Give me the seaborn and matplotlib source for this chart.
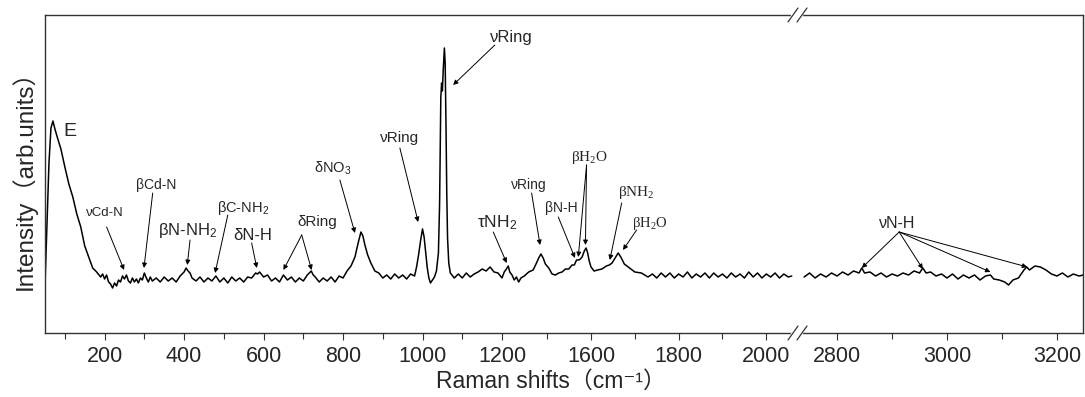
import numpy as np
import matplotlib
matplotlib.use('Agg')
import matplotlib.pyplot as plt
import seaborn as sns

# Raman spectrum (shift in cm-1, intensity in arb. units)
shift_low = [50, 55, 60, 65, 70, 75, 80, 90, 100, 110, 120, 130, 140, 150, 160, 170, 180, 190, 195,
             200, 205, 210, 215, 220, 225, 230, 235, 240, 245, 250, 255, 260, 265, 270, 275, 280, 285,
             290, 295, 300, 305, 310, 315, 320, 330, 340, 350, 360, 370, 380, 390, 400, 405, 410, 415,
             420, 430, 440, 450, 460, 470, 480, 490, 500, 510, 520, 530, 540, 550, 560, 570, 580, 585,
             590, 600, 610, 620, 630, 640, 650, 660, 670, 680, 690, 700, 710, 720, 725, 730, 740, 750,
             760, 770, 780, 790, 800, 810, 820, 830, 838, 845, 850, 855, 862, 870, 880, 890, 900, 910,
             920, 930, 940, 950, 960, 970, 980, 985, 990, 995, 1000, 1004, 1008, 1012, 1016, 1020, 1025,
             1030, 1035, 1040, 1043, 1046, 1048, 1050, 1052, 1055, 1057, 1059, 1061, 1063, 1066, 1070,
             1080, 1090, 1100, 1110, 1120, 1130, 1140, 1150, 1160, 1170, 1180, 1190, 1200, 1210, 1220,
             1228, 1235, 1245, 1255, 1265, 1275, 1285, 1300, 1320, 1340, 1355, 1365, 1375, 1385, 1395,
             1410, 1425, 1440, 1455, 1470, 1485, 1500, 1515, 1525, 1535, 1545, 1552, 1560, 1570, 1578,
             1585, 1592, 1600, 1607, 1615, 1625, 1635, 1642, 1648, 1655, 1662, 1668, 1676, 1688, 1700,
             1715, 1730, 1740, 1750, 1760, 1770, 1780, 1790, 1800, 1810, 1820, 1830, 1840, 1850, 1860,
             1870, 1880, 1890, 1900, 1910, 1920, 1930, 1940, 1950, 1960, 1970, 1980, 1990, 2000, 2010,
             2020, 2030, 2040, 2050, 2058]
int_low = [48, 110, 170, 205, 212, 204, 197, 184, 166, 149, 136, 119, 106, 87, 76, 65, 61, 56, 59,
           54, 58, 51, 49, 45, 50, 47, 53, 51, 57, 54, 58, 52, 50, 55, 51, 54, 50,
           55, 53, 60, 55, 51, 56, 52, 55, 51, 56, 52, 55, 51, 57, 61, 65, 62, 60,
           55, 52, 56, 51, 55, 52, 57, 51, 55, 50, 56, 52, 55, 51, 56, 55, 60, 59,
           61, 56, 58, 52, 55, 51, 58, 53, 56, 51, 55, 52, 58, 62, 58, 56, 51, 55,
           52, 56, 51, 57, 55, 62, 67, 76, 90, 101, 97, 88, 78, 70, 62, 60, 55, 58,
           54, 59, 55, 58, 54, 59, 57, 66, 78, 92, 104, 96, 80, 65, 55, 50, 53,
           56, 62, 80, 130, 235, 250, 242, 262, 285, 270, 210, 140, 95, 70, 60,
           55, 59, 55, 60, 56, 59, 61, 64, 62, 66, 61, 60, 55, 61, 64,
           67, 61, 58, 53, 56, 51, 55, 57, 61, 63, 70, 75, 79, 75, 69,
           65, 59, 58, 60, 61, 64, 64, 68, 68, 73, 73, 74, 76, 82, 85,
           80, 72, 66, 62, 63, 64, 67, 68, 70, 75, 80, 76, 69, 65, 61,
           60, 56, 59, 55, 60, 56, 60, 55, 59, 56, 61, 55, 59, 56, 60,
           55, 60, 56, 59, 55, 60, 56, 59, 55, 61, 56, 60, 55, 59, 56,
           60, 55, 59, 56, 57]

shift_high = [2740, 2750, 2760, 2770, 2780, 2790, 2800, 2810, 2820, 2830, 2840, 2845, 2850, 2860,
              2870, 2880, 2890, 2900, 2910, 2920, 2930, 2940, 2950, 2956, 2962, 2970, 2980, 2990,
              3000, 3010, 3020, 3030, 3040, 3050, 3060, 3070, 3079, 3085, 3095, 3105, 3112, 3120,
              3130, 3140, 3145, 3150, 3160, 3170, 3180, 3190, 3200, 3210, 3220, 3230, 3240, 3248]
int_high = [56, 60, 55, 59, 56, 60, 57, 61, 58, 62, 60, 65, 60, 61,
            57, 60, 56, 59, 57, 60, 58, 62, 60, 65, 60, 61, 57, 59,
            55, 59, 54, 58, 55, 58, 53, 57, 58, 54, 53, 51, 48, 53,
            55, 63, 66, 63, 67, 66, 63, 59, 57, 60, 56, 59, 57, 58]

major_ticks = [200, 400, 600, 800, 1000, 1200, 1600, 1800, 2000, 2800, 3000, 3200]
minor_ticks = [100, 300, 500, 700, 900, 1100, 1400, 1700, 1900, 2900, 3100]

# peak labels: text, text x, text y, size, serif?, list of (arrow start x, y, tip x, y)
labels = [
    ('νCd-N', 201, 120, 9.5, False, [(205, 106, 249, 63)]),
    ('βCd-N', 331, 148, 10, False, [(321, 140, 299, 65)]),
    ('βN-NH$_2$', 410, 103, 12, False, [(415, 93, 408, 68)]),
    ('βC-NH$_2$', 548, 125, 10.5, False, [(510, 118, 478, 60)]),
    ('δN-H', 573, 98, 12, False, [(570, 90, 583, 65)]),
    ('δRing', 734, 111, 11, False, [(696, 98, 650, 63), (696, 98, 721, 63)]),
    ('δNO$_3$', 775, 165, 10.5, False, [(792, 153, 830, 100)]),
    ('νRing', 943, 195, 11, False, [(943, 185, 989, 111)]),
    ('νRing', 1244, 296, 12, False, [(1182, 288, 1077, 248)]),
    ('τNH$_2$', 1187, 110, 12.5, False, [(1178, 101, 1221, 70)]),
    ('νRing', 1318, 148, 10, False, [(1333, 140, 1371, 88)]),
    ('βN-H', 1468, 125, 10, False, [(1453, 116, 1528, 75)]),
    ('βH$_2$O', 1595, 176, 11, True, [(1580, 168, 1543, 76), (1580, 168, 1575, 88)]),
    ('βNH$_2$', 1704, 141, 11, True, [(1670, 130, 1643, 73)]),
    ('βH$_2$O', 1734, 109, 10.5, True, [(1704, 103, 1673, 83)]),
    ('νN-H', 2909, 109, 11.5, False, [(2913, 101, 2845, 65), (2913, 101, 2956, 64),
                                      (2913, 101, 3079, 61), (2913, 101, 3146, 66)]),
]

sns.set_theme(style='white')
plt.rcParams['font.family'] = ['Liberation Sans', 'DejaVu Sans', 'Noto Sans CJK SC']
plt.rcParams['mathtext.default'] = 'regular'

# the original axis is piecewise: 1200-1600 squeezed, break between 2070 and 2728
brk_data = [50, 1200, 1600, 2070, 2728, 3248]
brk_pos = [0, 457, 546, 752, 752.5, 1038.3]


def fwd(x):
    return np.interp(x, brk_data, brk_pos)


def inv(y):
    return np.interp(y, brk_pos, brk_data)


fig = plt.figure(figsize=(10.85, 3.97), dpi=100)
ax = fig.add_axes([45 / 1085, 64 / 397, 1038.3 / 1085, 318 / 397])
ax.set_xscale('function', functions=(fwd, inv))

sns.lineplot(x=shift_low, y=int_low, ax=ax, color='black', linewidth=1.1,
             estimator=None, sort=False)
sns.lineplot(x=shift_high, y=int_high, ax=ax, color='black', linewidth=1.1,
             estimator=None, sort=False)

ax.set_xlim(50, 3248)
ax.set_ylim(0, 318)
ax.set_yticks([])
ax.xaxis.set_major_locator(matplotlib.ticker.FixedLocator(major_ticks))
ax.xaxis.set_minor_locator(matplotlib.ticker.FixedLocator(minor_ticks))
ax.xaxis.set_major_formatter(matplotlib.ticker.FormatStrFormatter('%d'))
ax.tick_params(axis='x', which='major', direction='out', length=5, width=0.8,
               labelsize=15.5, pad=4, bottom=True, color='#333333')
ax.tick_params(axis='x', which='minor', direction='out', length=4, width=0.8,
               bottom=True, color='#333333')
for sp in ax.spines.values():
    sp.set_color('#333333')
    sp.set_linewidth(1.0)

ax.set_xlabel('Raman shifts（cm⁻¹）', fontsize=16.5)
ax.xaxis.set_label_coords(0.4875, -0.115)
ax.set_ylabel('Intensity（arb.units）', fontsize=17.5, labelpad=6)

ax.text(95, 201, 'E', fontsize=14, ha='left', va='center')
arrow_kw = dict(arrowstyle='-|>', color='black', lw=0.7, mutation_scale=7,
                shrinkA=0, shrinkB=0)
for txt, tx, ty, size, serif, arrows in labels:
    fam = ['Liberation Serif'] if serif else ['Liberation Sans']
    ax.text(tx, ty, txt, fontsize=size, ha='center', va='center', family=fam)
    for sx, sy, px, py in arrows:
        ax.annotate('', xy=(px, py), xytext=(sx, sy), arrowprops=arrow_kw)

# break marks on top and bottom spines
xb = ax.transAxes.inverted().transform(ax.transData.transform((2070, 0)))[0] + 0.5 / 1038.3
w = 1038.3
for yb in (0, 1):
    h = 1 / 318
    ax.plot([xb - 5 / w, xb + 4 / w], [yb, yb], color='white', lw=2.5,
            transform=ax.transAxes, clip_on=False, zorder=5)
    for off in (-4.5, 4.5):
        ax.plot([xb + (off - 5) / w, xb + (off + 5) / w], [yb - 7 * h, yb + 7 * h],
                color='#333333', lw=0.9, transform=ax.transAxes, clip_on=False, zorder=6)

plt.savefig('out.png', dpi=100)
